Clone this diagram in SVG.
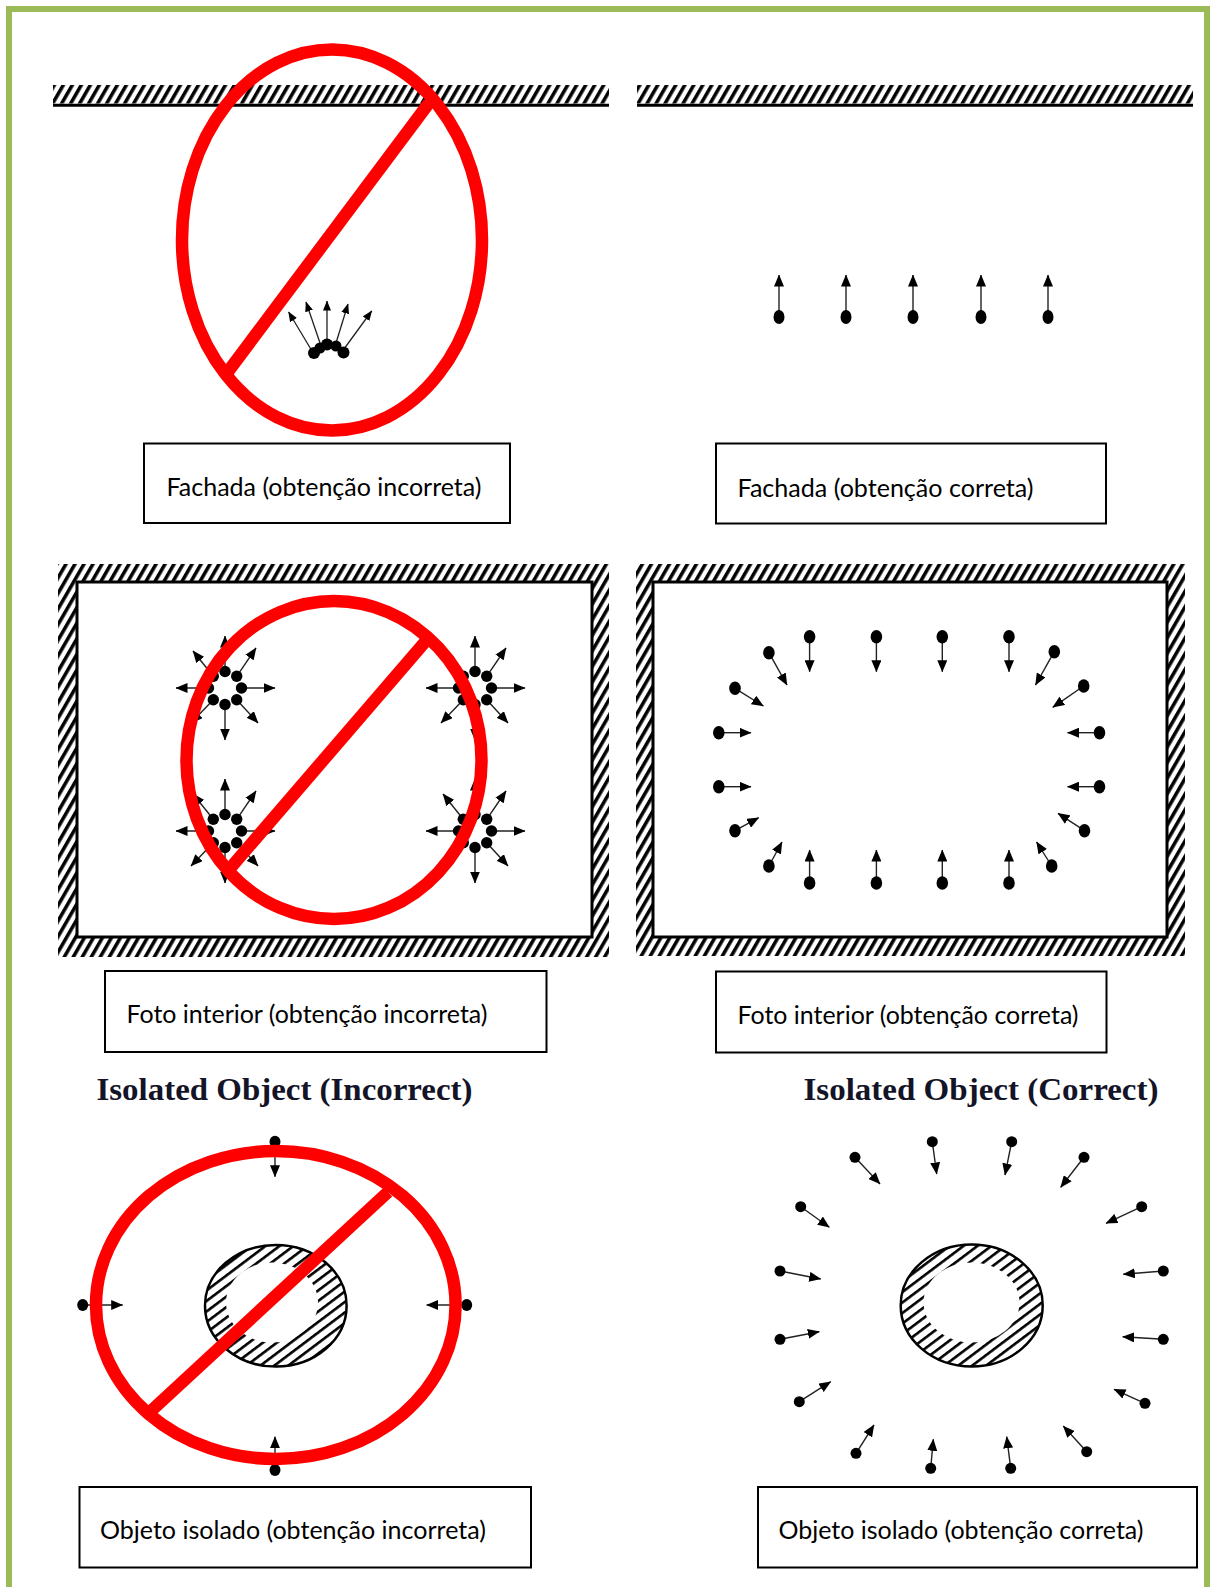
<svg xmlns="http://www.w3.org/2000/svg" xmlns:xlink="http://www.w3.org/1999/xlink" width="1211" height="1587" viewBox="0 0 1211 1587">
<style>
.lbl{font-family:Lato,"Open Sans","Liberation Sans",sans-serif;font-size:25px;fill:#000}
.ttl{font-family:"Liberation Serif","Times New Roman",serif;font-size:32px;font-weight:bold;fill:#141428}
.box{fill:#fff;stroke:#000;stroke-width:2}
.red{fill:none;stroke:#ff0000;stroke-width:12.5}
.ar{stroke:#222;stroke-width:1.4;fill:none;marker-end:url(#ah)}
.ars{stroke:#222;stroke-width:1.3;fill:none;marker-end:url(#ahs)}
.dot{fill:#000}
</style>
<defs>
<marker id="ah" viewBox="0 0 12 10" markerWidth="12" markerHeight="10" refX="11.5" refY="5" orient="auto" markerUnits="userSpaceOnUse"><path d="M0,0 L12,5 L0,10 z" fill="#000"/></marker>
<marker id="ahs" viewBox="0 0 10 8" markerWidth="10" markerHeight="8" refX="9.5" refY="4" orient="auto" markerUnits="userSpaceOnUse"><path d="M0,0 L10,4 L0,8 z" fill="#000"/></marker>
<pattern id="hatchF" patternUnits="userSpaceOnUse" width="7.8" height="10" patternTransform="rotate(30)"><rect x="2" y="0" width="3.5" height="10" fill="#000"/></pattern>
<pattern id="hatchE" patternUnits="userSpaceOnUse" width="10" height="8.4" patternTransform="rotate(-37)"><rect x="0" y="2.8" width="10" height="2.6" fill="#000"/></pattern>
<g id="burst">
<line class="ar" x1="16.5" y1="0" x2="50" y2="0"/>
<line class="ar" x1="0" y1="16.5" x2="0" y2="52"/>
<line class="ar" x1="-16.5" y1="0" x2="-49" y2="0"/>
<line class="ar" x1="0" y1="-16.5" x2="0" y2="-52"/>
<line class="ar" x1="11.7" y1="11.7" x2="33" y2="35"/>
<line class="ar" x1="-11.7" y1="11.7" x2="-34" y2="35"/>
<line class="ar" x1="-11.7" y1="-11.7" x2="-32" y2="-37"/>
<line class="ar" x1="11.7" y1="-11.7" x2="31" y2="-40"/>
<circle class="dot" cx="16.5" cy="0" r="5.7"/>
<circle class="dot" cx="11.7" cy="11.7" r="5.7"/>
<circle class="dot" cx="0" cy="16.5" r="5.7"/>
<circle class="dot" cx="-11.7" cy="11.7" r="5.7"/>
<circle class="dot" cx="-16.5" cy="0" r="5.7"/>
<circle class="dot" cx="-11.7" cy="-11.7" r="5.7"/>
<circle class="dot" cx="0" cy="-16.5" r="5.7"/>
<circle class="dot" cx="11.7" cy="-11.7" r="5.7"/>
</g>
</defs>
<rect x="0" y="0" width="1211" height="1587" fill="#fff"/>
<path d="M9,1590 V9 H1207 V1590" fill="none" stroke="#9bbb59" stroke-width="6"/>

<!-- Panel 1: facade incorrect -->
<g id="panel-facade-incorrect">
<rect x="53" y="85" width="556" height="18.5" fill="url(#hatchF)"/>
<line x1="53" y1="105.3" x2="609" y2="105.3" stroke="#000" stroke-width="3"/>
<g>
<line class="ars" x1="312" y1="351" x2="288.6" y2="312"/>
<line class="ars" x1="320" y1="343" x2="306" y2="302"/>
<line class="ars" x1="327" y1="341" x2="327" y2="301"/>
<line class="ars" x1="336" y1="343" x2="348" y2="304"/>
<line class="ars" x1="344" y1="349" x2="371.7" y2="311"/>
<circle class="dot" cx="314" cy="353" r="6"/>
<circle class="dot" cx="320" cy="348" r="5.5"/>
<circle class="dot" cx="327" cy="344.5" r="6"/>
<circle class="dot" cx="336" cy="346" r="5.5"/>
<circle class="dot" cx="343.5" cy="352.5" r="6"/>
</g>
<ellipse class="red" cx="332" cy="240" rx="150" ry="190.5"/>
<line class="red" x1="429" y1="103" x2="227" y2="373"/>
</g>
<g id="label-facade-incorrect">
<rect class="box" x="144" y="443.5" width="366" height="79.5"/>
<text class="lbl" x="166.5" y="496" textLength="315" lengthAdjust="spacingAndGlyphs">Fachada (obtenção incorreta)</text>
</g>

<!-- Panel 2: facade correct -->
<g id="panel-facade-correct">
<rect x="637" y="85" width="556" height="18.5" fill="url(#hatchF)"/>
<line x1="637" y1="105.3" x2="1193" y2="105.3" stroke="#000" stroke-width="3"/>
<line class="ar" x1="779" y1="312" x2="779" y2="275"/>
<line class="ar" x1="846" y1="312" x2="846" y2="275"/>
<line class="ar" x1="913" y1="312" x2="913" y2="275"/>
<line class="ar" x1="981" y1="312" x2="981" y2="275"/>
<line class="ar" x1="1048" y1="312" x2="1048" y2="275"/>
<ellipse class="dot" cx="779" cy="317" rx="5.5" ry="7"/>
<ellipse class="dot" cx="846" cy="317" rx="5.5" ry="7"/>
<ellipse class="dot" cx="913" cy="317" rx="5.5" ry="7"/>
<ellipse class="dot" cx="981" cy="317" rx="5.5" ry="7"/>
<ellipse class="dot" cx="1048" cy="317" rx="5.5" ry="7"/>
</g>
<g id="label-facade-correct">
<rect class="box" x="716" y="443.5" width="390" height="80"/>
<text class="lbl" x="737.5" y="496.5" textLength="296" lengthAdjust="spacingAndGlyphs">Fachada (obtenção correta)</text>
</g>

<!-- Panel 3: interior incorrect -->
<g id="panel-interior-incorrect">
<rect x="58" y="564" width="551" height="393" fill="url(#hatchF)"/>
<rect x="77" y="582" width="515" height="355" fill="#fff" stroke="#000" stroke-width="3"/>
<use xlink:href="#burst" href="#burst" x="225" y="688"/>
<use xlink:href="#burst" href="#burst" x="475" y="688"/>
<use xlink:href="#burst" href="#burst" x="225" y="831"/>
<use xlink:href="#burst" href="#burst" x="475" y="831"/>
<ellipse class="red" cx="334" cy="760" rx="147.5" ry="159"/>
<line class="red" x1="426.7" y1="640" x2="228.7" y2="870"/>
</g>
<g id="label-interior-incorrect">
<rect class="box" x="105" y="971" width="441.5" height="81"/>
<text class="lbl" x="126.5" y="1023" textLength="361" lengthAdjust="spacingAndGlyphs">Foto interior (obtenção incorreta)</text>
</g>

<!-- Panel 4: interior correct -->
<g id="panel-interior-correct">
<rect x="636" y="564" width="549" height="392" fill="url(#hatchF)"/>
<rect x="653" y="582" width="514" height="355" fill="#fff" stroke="#000" stroke-width="3"/>
<g>
<line class="ar" x1="809.6" y1="640" x2="809.6" y2="671.7"/>
<line class="ar" x1="876.4" y1="640" x2="876.4" y2="671.7"/>
<line class="ar" x1="942.3" y1="640" x2="942.3" y2="671.7"/>
<line class="ar" x1="1009" y1="640" x2="1009" y2="671.7"/>
<line class="ar" x1="809.6" y1="880" x2="809.6" y2="850"/>
<line class="ar" x1="876.4" y1="880" x2="876.4" y2="850"/>
<line class="ar" x1="942.3" y1="880" x2="942.3" y2="850"/>
<line class="ar" x1="1009" y1="880" x2="1009" y2="850"/>
<line class="ar" x1="722" y1="732.7" x2="751" y2="732.7"/>
<line class="ar" x1="722" y1="786.7" x2="751" y2="786.7"/>
<line class="ar" x1="1096" y1="732.7" x2="1067.5" y2="732.7"/>
<line class="ar" x1="1096" y1="786.7" x2="1067.5" y2="786.7"/>
<line class="ar" x1="768.9" y1="652.7" x2="787" y2="685"/>
<line class="ar" x1="735" y1="688.3" x2="763.3" y2="706"/>
<line class="ar" x1="1054.3" y1="651.7" x2="1035.5" y2="685"/>
<line class="ar" x1="1083.7" y1="686" x2="1052.8" y2="707.3"/>
<line class="ar" x1="735" y1="830.7" x2="758.7" y2="817.7"/>
<line class="ar" x1="768.9" y1="866" x2="782" y2="842"/>
<line class="ar" x1="1084.5" y1="830.7" x2="1058" y2="813.3"/>
<line class="ar" x1="1051.7" y1="866" x2="1036.6" y2="842"/>
</g>
<g>
<ellipse class="dot" cx="809.6" cy="636.7" rx="5.8" ry="6.8"/>
<ellipse class="dot" cx="876.4" cy="636.7" rx="5.8" ry="6.8"/>
<ellipse class="dot" cx="942.3" cy="636.7" rx="5.8" ry="6.8"/>
<ellipse class="dot" cx="1009" cy="636.7" rx="5.8" ry="6.8"/>
<ellipse class="dot" cx="809.6" cy="883" rx="5.8" ry="6.8"/>
<ellipse class="dot" cx="876.4" cy="883" rx="5.8" ry="6.8"/>
<ellipse class="dot" cx="942.3" cy="883" rx="5.8" ry="6.8"/>
<ellipse class="dot" cx="1009" cy="883" rx="5.8" ry="6.8"/>
<ellipse class="dot" cx="718.8" cy="732.7" rx="5.8" ry="6.8"/>
<ellipse class="dot" cx="718.8" cy="786.7" rx="5.8" ry="6.8"/>
<ellipse class="dot" cx="1099.5" cy="732.7" rx="5.8" ry="6.8"/>
<ellipse class="dot" cx="1099.5" cy="786.7" rx="5.8" ry="6.8"/>
<ellipse class="dot" cx="768.9" cy="652.7" rx="5.8" ry="6.8"/>
<ellipse class="dot" cx="735" cy="688.3" rx="5.8" ry="6.8"/>
<ellipse class="dot" cx="1054.3" cy="651.7" rx="5.8" ry="6.8"/>
<ellipse class="dot" cx="1083.7" cy="686" rx="5.8" ry="6.8"/>
<ellipse class="dot" cx="735" cy="830.7" rx="5.8" ry="6.8"/>
<ellipse class="dot" cx="768.9" cy="866" rx="5.8" ry="6.8"/>
<ellipse class="dot" cx="1084.5" cy="830.7" rx="5.8" ry="6.8"/>
<ellipse class="dot" cx="1051.7" cy="866" rx="5.8" ry="6.8"/>
</g>
</g>
<g id="label-interior-correct">
<rect class="box" x="716" y="971.5" width="390.5" height="81"/>
<text class="lbl" x="737.5" y="1023.5" textLength="341" lengthAdjust="spacingAndGlyphs">Foto interior (obtenção correta)</text>
</g>

<!-- Titles -->
<g id="title-isolated-incorrect">
<text class="ttl" x="96.5" y="1100" textLength="376" lengthAdjust="spacingAndGlyphs">Isolated Object (Incorrect)</text>
</g>
<g id="title-isolated-correct">
<text class="ttl" x="803.5" y="1100" textLength="355" lengthAdjust="spacingAndGlyphs">Isolated Object (Correct)</text>
</g>

<!-- Panel 5: isolated object incorrect -->
<g id="panel-object-incorrect">
<ellipse cx="275.8" cy="1305.8" rx="70.8" ry="60.8" fill="url(#hatchE)"/>
<ellipse cx="272" cy="1302.5" rx="46" ry="40" fill="#fff"/>
<ellipse cx="275.8" cy="1305.8" rx="70.8" ry="60.8" fill="none" stroke="#000" stroke-width="2.5"/>
<line class="ar" x1="275" y1="1146" x2="275" y2="1176.7"/>
<line class="ar" x1="87" y1="1305" x2="122.7" y2="1305"/>
<line class="ar" x1="462" y1="1305" x2="426.7" y2="1305"/>
<line class="ar" x1="275" y1="1466" x2="275" y2="1436.7"/>
<ellipse class="dot" cx="275" cy="1141.7" rx="5.5" ry="6"/>
<ellipse class="dot" cx="82.7" cy="1305" rx="5.5" ry="6"/>
<ellipse class="dot" cx="466.7" cy="1305" rx="5.5" ry="6"/>
<ellipse class="dot" cx="275" cy="1470" rx="5.5" ry="6"/>
<ellipse class="red" cx="275.8" cy="1305" rx="179.8" ry="154"/>
<line class="red" x1="388" y1="1192" x2="151" y2="1411"/>
</g>
<g id="label-object-incorrect">
<rect class="box" x="79.5" y="1487" width="451.5" height="80.5"/>
<text class="lbl" x="100" y="1539" textLength="386" lengthAdjust="spacingAndGlyphs">Objeto isolado (obtenção incorreta)</text>
</g>

<!-- Panel 6: isolated object correct -->
<g id="panel-object-correct">
<ellipse cx="971.7" cy="1305.5" rx="71" ry="61" fill="url(#hatchE)"/>
<ellipse cx="971.5" cy="1302.5" rx="48" ry="40" fill="#fff"/>
<ellipse cx="971.7" cy="1305.5" rx="71" ry="61" fill="none" stroke="#000" stroke-width="2.5"/>
<g>
<line class="ar" x1="855" y1="1157.3" x2="880" y2="1184"/>
<line class="ar" x1="932.3" y1="1141.7" x2="936.7" y2="1174"/>
<line class="ar" x1="1011.7" y1="1141.7" x2="1005" y2="1175"/>
<line class="ar" x1="1084" y1="1157.3" x2="1060.7" y2="1187.3"/>
<line class="ar" x1="800.7" y1="1206.7" x2="829.3" y2="1227.3"/>
<line class="ar" x1="1141.7" y1="1206.7" x2="1106" y2="1223.3"/>
<line class="ar" x1="780" y1="1271" x2="820.7" y2="1279"/>
<line class="ar" x1="1163.3" y1="1271" x2="1123.3" y2="1274.3"/>
<line class="ar" x1="780" y1="1339.3" x2="819.3" y2="1331.7"/>
<line class="ar" x1="1163.3" y1="1339.3" x2="1122.7" y2="1336.7"/>
<line class="ar" x1="799.3" y1="1401.7" x2="830.7" y2="1381.7"/>
<line class="ar" x1="1145" y1="1403.3" x2="1114" y2="1389.3"/>
<line class="ar" x1="856" y1="1453.3" x2="874" y2="1425"/>
<line class="ar" x1="1086.7" y1="1451.7" x2="1063.3" y2="1426"/>
<line class="ar" x1="930.7" y1="1468.3" x2="933.3" y2="1439.3"/>
<line class="ar" x1="1010.7" y1="1468.3" x2="1006.7" y2="1436.7"/>
</g>
<g>
<circle class="dot" cx="855" cy="1157.3" r="5.5"/>
<circle class="dot" cx="932.3" cy="1141.7" r="5.5"/>
<circle class="dot" cx="1011.7" cy="1141.7" r="5.5"/>
<circle class="dot" cx="1084" cy="1157.3" r="5.5"/>
<circle class="dot" cx="800.7" cy="1206.7" r="5.5"/>
<circle class="dot" cx="1141.7" cy="1206.7" r="5.5"/>
<circle class="dot" cx="780" cy="1271" r="5.5"/>
<circle class="dot" cx="1163.3" cy="1271" r="5.5"/>
<circle class="dot" cx="780" cy="1339.3" r="5.5"/>
<circle class="dot" cx="1163.3" cy="1339.3" r="5.5"/>
<circle class="dot" cx="799.3" cy="1401.7" r="5.5"/>
<circle class="dot" cx="1145" cy="1403.3" r="5.5"/>
<circle class="dot" cx="856" cy="1453.3" r="5.5"/>
<circle class="dot" cx="1086.7" cy="1451.7" r="5.5"/>
<circle class="dot" cx="930.7" cy="1468.3" r="5.5"/>
<circle class="dot" cx="1010.7" cy="1468.3" r="5.5"/>
</g>
</g>
<g id="label-object-correct">
<rect class="box" x="758" y="1487" width="439" height="80.5"/>
<text class="lbl" x="778.5" y="1539" textLength="365" lengthAdjust="spacingAndGlyphs">Objeto isolado (obtenção correta)</text>
</g>
</svg>
